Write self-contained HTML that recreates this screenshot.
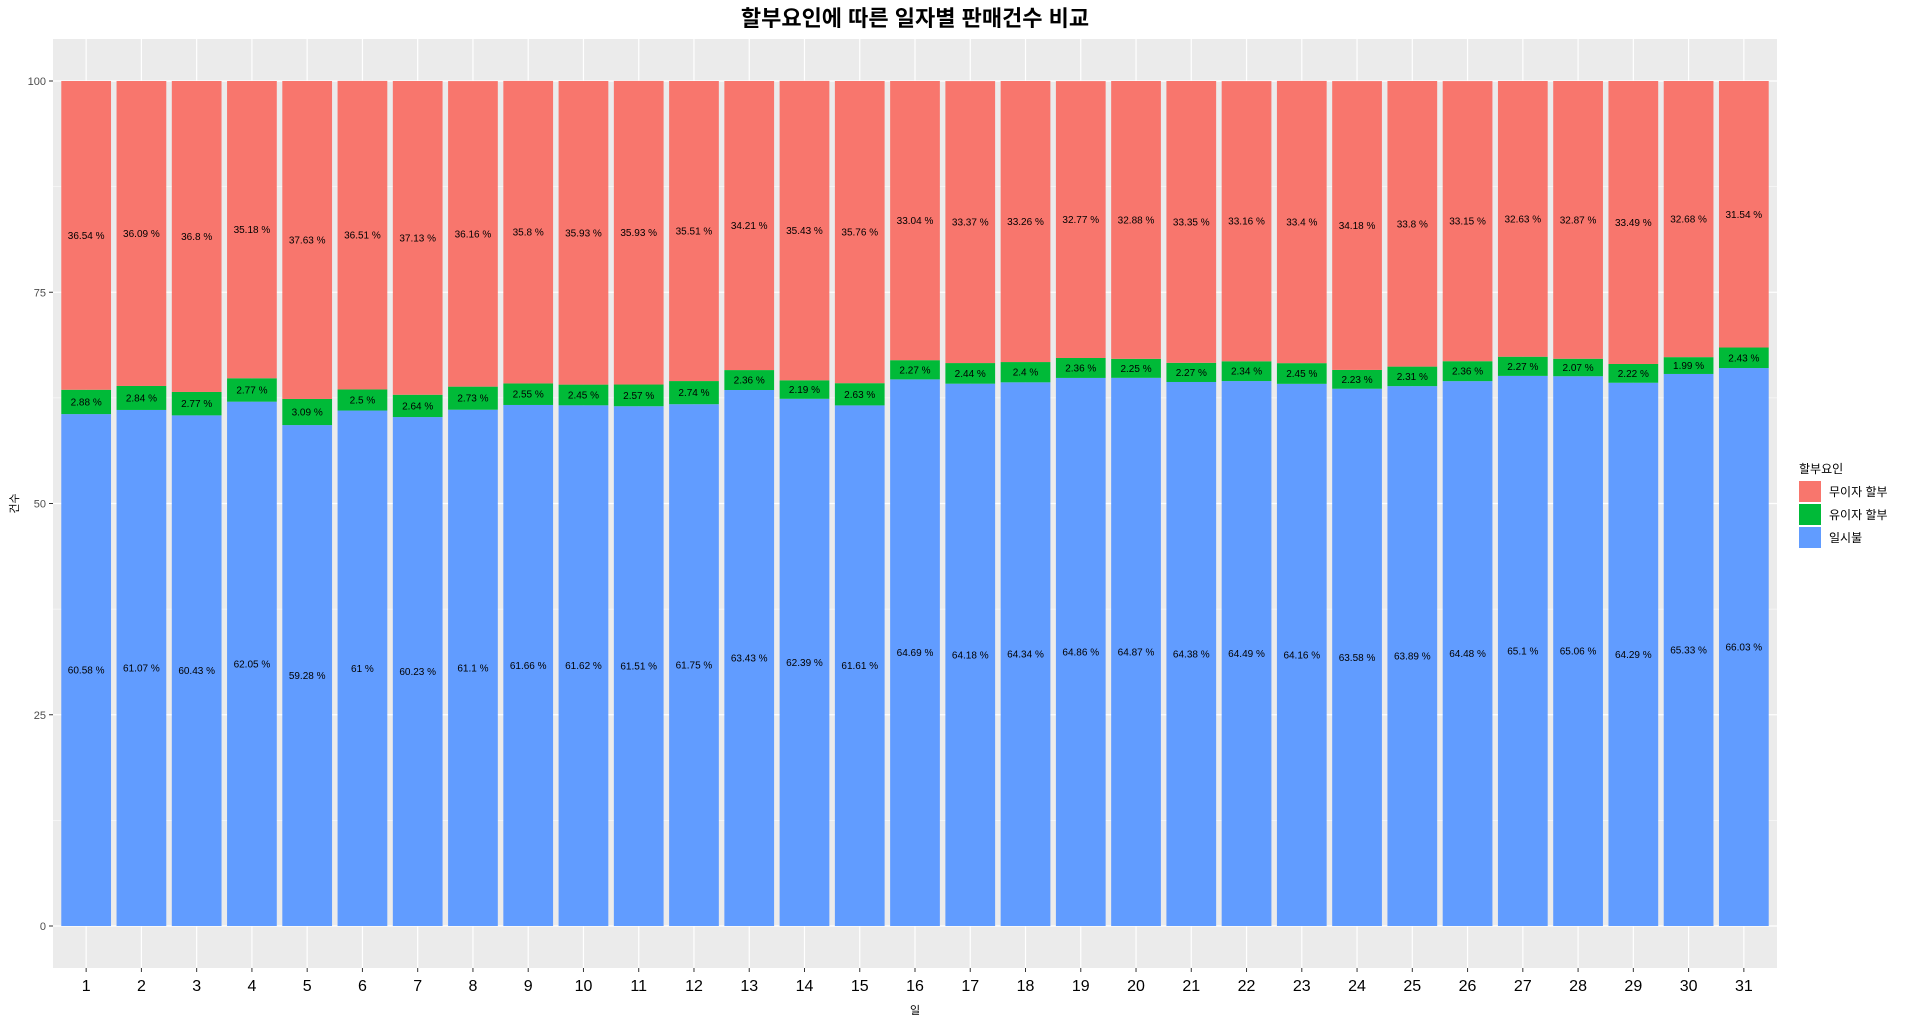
<!DOCTYPE html>
<html><head><meta charset="utf-8"><style>
body{margin:0;background:#fff;}
svg{display:block;font-family:"Liberation Sans","Noto Sans CJK KR",sans-serif;}
</style></head><body>
<svg id="c" width="1920" height="1017"></svg>
<script>
const days=[];for(let i=1;i<=31;i++)days.push(String(i));
const lumpSum=[60.58,61.07,60.43,62.05,59.28,61,60.23,61.1,61.66,61.62,61.51,61.75,63.43,62.39,61.61,64.69,64.18,64.34,64.86,64.87,64.38,64.49,64.16,63.58,63.89,64.48,65.1,65.06,64.29,65.33,66.03];
const interestInst=[2.88,2.84,2.77,2.77,3.09,2.5,2.64,2.73,2.55,2.45,2.57,2.74,2.36,2.19,2.63,2.27,2.44,2.4,2.36,2.25,2.27,2.34,2.45,2.23,2.31,2.36,2.27,2.07,2.22,1.99,2.43];
const freeInst=[36.54,36.09,36.8,35.18,37.63,36.51,37.13,36.16,35.8,35.93,35.93,35.51,34.21,35.43,35.76,33.04,33.37,33.26,32.77,32.88,33.35,33.16,33.4,34.18,33.8,33.15,32.63,32.87,33.49,32.68,31.54];
const yTicks=[0,25,50,75,100];
const seriesNames=["무이자 할부","유이자 할부","일시불"];
const colors=["#F8766D","#00BA38","#619CFF"];

const NS="http://www.w3.org/2000/svg";
const svg=document.getElementById('c');
function mk(t,a,p){const e=document.createElementNS(NS,t);for(const k in a)e.setAttribute(k,a[k]);(p||svg).appendChild(e);return e;}
const PL=53,PR=1777,PT=39,PB=968;
const y0=926,y100=81;
const Y=v=>y0+(y100-y0)*v/100;
const step=(PR-PL)/(days.length-1+1.2);
const X=i=>PL+step*(0.6+i);
const bw=step*0.9;

let panel=mk('rect',{x:PL,y:PT,width:PR-PL,height:PB-PT,fill:'#EBEBEB'});

for(let v=12.5;v<100;v+=25){mk('line',{x1:PL,x2:PR,y1:Y(v),y2:Y(v),stroke:'#fff','stroke-width':0.6});}
yTicks.forEach(v=>{
 mk('line',{x1:PL,x2:PR,y1:Y(v),y2:Y(v),stroke:'#fff','stroke-width':1.2});
 mk('line',{x1:PL-4,x2:PL,y1:Y(v),y2:Y(v),stroke:'#333','stroke-width':1});
 const t=mk('text',{x:PL-7,y:Y(v)+4,'text-anchor':'end','font-size':11,fill:'#4D4D4D'});t.textContent=v;
 
});
days.forEach((d,i)=>{
 mk('line',{x1:X(i),x2:X(i),y1:PT,y2:PB,stroke:'#fff','stroke-width':1.2});
 mk('line',{x1:X(i),x2:X(i),y1:PB,y2:PB+4,stroke:'#333','stroke-width':1});
 const t=mk('text',{x:X(i),y:PB+23,'text-anchor':'middle','font-size':16,fill:'#000'});t.textContent=d;
 
});
days.forEach((d,i)=>{
 const segs=[[lumpSum[i],colors[2]],[interestInst[i],colors[1]],[freeInst[i],colors[0]]];
 let base=0;
 segs.forEach((s,k)=>{
  const r=mk('rect',{x:X(i)-bw/2,y:Y(base+s[0]),width:bw,height:Y(base)-Y(base+s[0]),fill:s[1]});
  
  const t=mk('text',{x:X(i),y:Y(base+s[0]/2)+3.5,'text-anchor':'middle','font-size':10,fill:'#000'});
  t.textContent=s[0]+' %';
  
  base+=s[0];
 });
});
let tt=mk('text',{x:(PL+PR)/2,y:26,'text-anchor':'middle','font-size':22,'font-weight':'bold',fill:'#000'});tt.textContent='할부요인에 따른 일자별 판매건수 비교';

let xt=mk('text',{x:(PL+PR)/2,y:1020-6,'text-anchor':'middle','font-size':11,fill:'#000'});xt.textContent='일';

let yt=mk('text',{x:0,y:0,'text-anchor':'middle','font-size':11,fill:'#000',transform:`translate(18,${(PT+PB)/2}) rotate(-90)`});yt.textContent='건수';

let lt=mk('text',{x:1799,y:473,'font-size':12,fill:'#000'});lt.textContent='할부요인';

seriesNames.forEach((n,k)=>{
 const ky=481+k*23;
 const r=mk('rect',{x:1799,y:ky,width:22,height:21,fill:colors[k]});
 
 const t=mk('text',{x:1829,y:ky+15,'font-size':12,fill:'#000'});t.textContent=n;
 
});
</script>
</body></html>
